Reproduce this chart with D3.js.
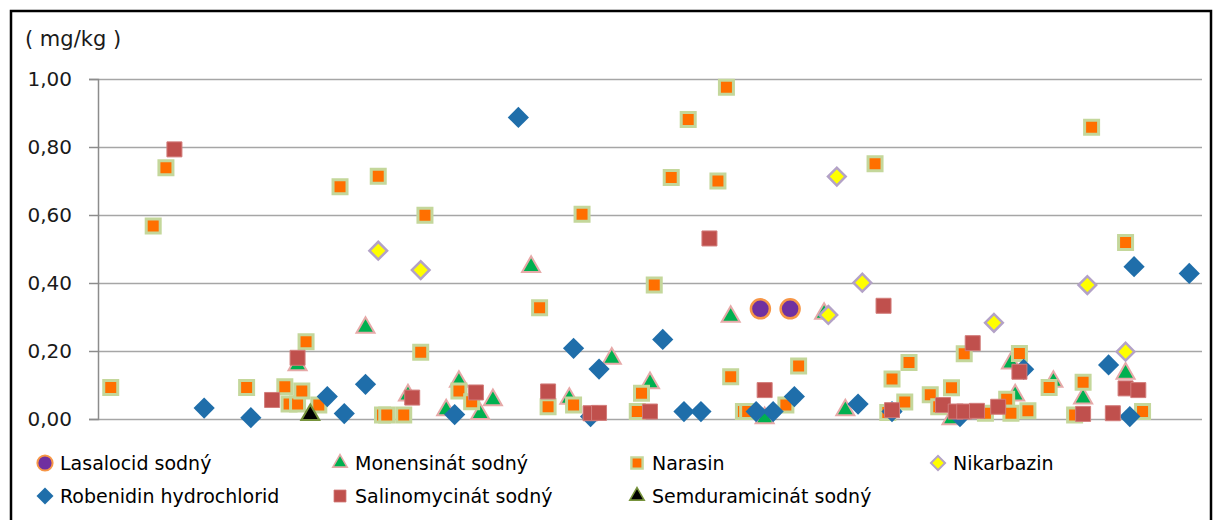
<!DOCTYPE html>
<html>
<head>
<meta charset="utf-8">
<script src="https://cdn.jsdelivr.net/npm/d3@7"></script>
<style>
  body { margin: 0; background: #fff; }
  svg { display: block; }
</style>
</head>
<body>
<div id="chart"></div>
<script>
// [sample number, mg/kg]
var lasalocid = [[156, 0.324], [163, 0.324]];

var monensinat = [
  [47, 0.159], [63, 0.269], [73, 0.07], [82, 0.026], [85, 0.11], [90, 0.015],
  [93, 0.056], [102, 0.448], [111, 0.06], [121, 0.178], [130, 0.106], [149, 0.301],
  [157, 0.003], [171, 0.31], [176, 0.026], [201, 0.0], [215, 0.164], [216, 0.07],
  [225, 0.11], [232, 0.061], [242, 0.134]
];

var narasin = [
  [3, 0.093], [13, 0.568], [16, 0.739], [35, 0.093], [44, 0.095], [45, 0.044],
  [47, 0.044], [48, 0.082], [49, 0.227], [52, 0.041], [57, 0.683], [66, 0.714],
  [67, 0.012], [68, 0.012], [72, 0.012], [76, 0.196], [77, 0.599], [85, 0.082],
  [88, 0.051], [104, 0.327], [106, 0.036], [112, 0.041], [114, 0.602], [127, 0.022],
  [128, 0.076], [131, 0.394], [135, 0.71], [139, 0.881], [146, 0.70], [148, 0.976],
  [149, 0.124], [152, 0.022], [153, 0.022], [162, 0.041], [165, 0.156], [183, 0.751],
  [186, 0.019], [187, 0.118], [190, 0.05], [191, 0.166], [196, 0.071], [198, 0.036],
  [201, 0.092], [204, 0.192], [209, 0.017], [214, 0.058], [215, 0.017], [217, 0.193],
  [219, 0.024], [224, 0.093], [230, 0.012], [232, 0.108], [234, 0.858], [242, 0.519],
  [246, 0.022]
];

var nikarbazin = [
  [66, 0.495], [76, 0.438], [172, 0.306], [174, 0.713], [180, 0.401], [211, 0.283],
  [233, 0.394], [242, 0.198]
];

var robenidin = [
  [25, 0.032], [36, 0.004], [54, 0.066], [58, 0.016], [63, 0.102], [84, 0.013],
  [99, 0.887], [112, 0.208], [116, 0.007], [118, 0.147], [133, 0.234], [138, 0.022],
  [142, 0.022], [155, 0.022], [159, 0.022], [164, 0.066], [179, 0.044], [187, 0.022],
  [203, 0.007], [218, 0.146], [238, 0.159], [243, 0.007], [244, 0.448], [257, 0.428]
];

var salinomycinat = [
  [18, 0.793], [41, 0.056], [47, 0.18], [74, 0.063], [89, 0.078], [106, 0.081],
  [116, 0.017], [118, 0.018], [130, 0.022], [144, 0.531], [157, 0.085], [185, 0.333],
  [187, 0.026], [199, 0.041], [202, 0.022], [204, 0.022], [206, 0.223], [207, 0.024],
  [212, 0.036], [217, 0.139], [232, 0.015], [239, 0.017], [242, 0.09], [245, 0.085]
];

var semduramicinat = [[50, 0.012]];

var yTicks = [0, 0.2, 0.4, 0.6, 0.8, 1.0];

var W = 1214, H = 520;
var plotLeft = 98, plotRight = 1202, plotTop = 79, plotBottom = 419;

var svg = d3.select("#chart").append("svg")
  .attr("width", W)
  .attr("height", H);

svg.append("rect")
  .attr("width", W).attr("height", H)
  .attr("fill", "#fff");

// chart border
svg.append("rect")
  .attr("x", 11).attr("y", 11)
  .attr("width", 1200).attr("height", 530)
  .attr("fill", "none")
  .attr("stroke", "#000")
  .attr("stroke-width", 2.5);

var x = d3.scaleLinear().domain([0, 260]).range([plotLeft, plotRight]);
var y = d3.scaleLinear().domain([0, 1]).range([plotBottom, plotTop]);

// gridlines
svg.append("g")
  .attr("transform", "translate(" + plotLeft + ",0)")
  .call(d3.axisLeft(y).tickValues(yTicks).tickSize(-(plotRight - plotLeft)).tickFormat(""))
  .call(function(g) {
    g.select(".domain").remove();
    g.selectAll("line").attr("stroke", "#a6a6a6").attr("stroke-width", 1.5);
  });

// y axis
svg.append("g")
  .attr("transform", "translate(" + plotLeft + ",0)")
  .call(d3.axisLeft(y).tickValues(yTicks).tickSize(9).tickPadding(17)
    .tickFormat(function(d) { return d.toFixed(2).replace(".", ","); }))
  .call(function(g) {
    g.select(".domain").attr("stroke", "#8c8c8c").attr("stroke-width", 1.5);
    g.selectAll("line").attr("stroke", "#8c8c8c").attr("stroke-width", 1.5);
    g.selectAll("text")
      .attr("fill", "#1a1a1a")
      .attr("font-family", "DejaVu Sans")
      .attr("font-size", 20);
  });

svg.append("text")
  .attr("x", 25).attr("y", 46)
  .attr("font-family", "DejaVu Sans")
  .attr("font-size", 21)
  .attr("fill", "#1a1a1a")
  .text("( mg/kg )");

// marker styles
var series = [
  { name: "Lasalocid sodný", data: lasalocid, shape: "circle", size: 19, fill: "#7030a0", stroke: "#f79646", sw: 2.5 },
  { name: "Monensinát sodný", data: monensinat, shape: "triangle", size: 18, fill: "#00b050", stroke: "#e6a9a8", sw: 2 },
  { name: "Narasin", data: narasin, shape: "square", size: 14, fill: "#ff6f00", stroke: "#c4d79b", sw: 3 },
  { name: "Nikarbazin", data: nikarbazin, shape: "diamond", size: 12.5, fill: "#ffff00", stroke: "#b3a2c7", sw: 2.5 },
  { name: "Robenidin hydrochlorid", data: robenidin, shape: "diamond", size: 15, fill: "#1f6eaa", stroke: "none", sw: 0 },
  { name: "Salinomycinát sodný", data: salinomycinat, shape: "square", size: 15, fill: "#c0504d", stroke: "#d27c7a", sw: 1 },
  { name: "Semduramicinát sodný", data: semduramicinat, shape: "triangle", size: 18, fill: "#000", stroke: "#77933c", sw: 2 }
];

function markerPath(shape, s) {
  if (shape === "circle") return d3.symbol(d3.symbolCircle, Math.PI * s * s / 4)();
  if (shape === "triangle") return d3.symbol(d3.symbolTriangle, s * s * Math.sqrt(3) / 4)();
  return d3.symbol(d3.symbolSquare, s * s)();
}

function drawMarker(g, sr, scale) {
  var s = sr.size * scale;
  g.append("path")
    .attr("d", markerPath(sr.shape, s))
    .attr("transform", sr.shape === "diamond" ? "rotate(45)" : null)
    .attr("fill", sr.fill)
    .attr("stroke", sr.stroke)
    .attr("stroke-width", sr.sw * scale);
}

series.forEach(function(sr) {
  var g = svg.append("g");
  g.selectAll("g")
    .data(sr.data)
    .enter()
    .append("g")
    .attr("transform", function(d) { return "translate(" + x(d[0]) + "," + y(d[1]) + ")"; })
    .each(function() { drawMarker(d3.select(this), sr, 1); });
});

// legend
var legCols = [45, 340, 637, 938];
var legRows = [463, 496];

series.forEach(function(sr, i) {
  var lg = svg.append("g")
    .attr("transform", "translate(" + legCols[i % 4] + "," + legRows[Math.floor(i / 4)] + ")");
  drawMarker(lg, sr, 0.8);
  lg.append("text")
    .attr("x", 15)
    .attr("dy", "0.36em")
    .attr("font-family", "DejaVu Sans")
    .attr("font-size", 19)
    .attr("fill", "#000")
    .text(sr.name);
});
</script>
</body>
</html>
